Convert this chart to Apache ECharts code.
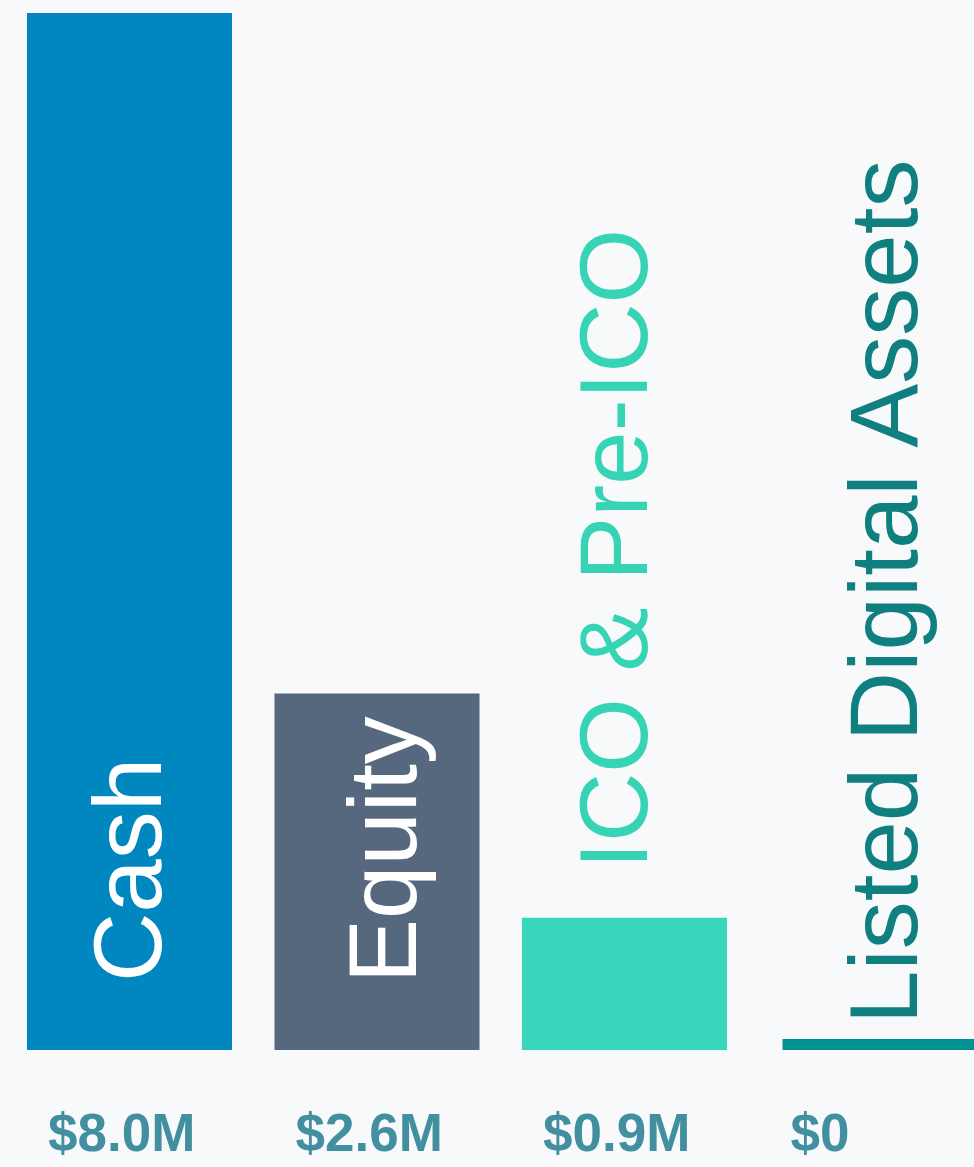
<!DOCTYPE html>
<html>
<head>
<meta charset="utf-8">
<script src="https://cdn.jsdelivr.net/npm/echarts@6/dist/echarts.min.js"></script>
<style>
  html, body { margin: 0; padding: 0; background: #f7f9fb; }
  #chart { width: 974px; height: 1167px; }
</style>
</head>
<body>
<div id="chart"></div>
<script>
var categories = ['Cash', 'Equity', 'ICO & Pre-ICO', 'Listed Digital Assets'];
var amountLabels = ['$8.0M', '$2.6M', '$0.9M', '$0'];
// bar heights as drawn (in $M)
var barValues = [8.0, 2.75, 1.02, 0.085];

var barColors = ['#0087bf', '#55687e', '#38d7bc', '#009191'];
var textColors = ['#ffffff', '#ffffff', '#36d4b5', '#107f7f'];
var labelInside = [true, true, false, false];
var labelDistance = [68, 67, 49, 15];
var labelShift = [5.5, 13, -4, 12.5];

var font = '"Liberation Sans", Arial, Helvetica, sans-serif';

function makeItem(i) {
    return {
        value: barValues[i],
        itemStyle: { color: barColors[i] },
        label: {
            show: true,
            formatter: categories[i],
            position: labelInside[i] ? 'insideBottom' : 'top',
            distance: labelDistance[i],
            offset: [0, labelShift[i]],
            rotate: 90,
            align: 'left',
            verticalAlign: 'middle',
            color: textColors[i],
            fontSize: 96,
            fontFamily: font
        }
    };
}

var mainData = [], lastData = [];
for (var i = 0; i < categories.length; i++) {
    if (i < 3) { mainData.push(makeItem(i)); lastData.push('-'); }
    else { mainData.push('-'); lastData.push(makeItem(i)); }
}

var chart = echarts.init(document.getElementById('chart'));
chart.setOption({
    backgroundColor: '#f7f9fb',
    animation: false,
    grid: { left: 5.75, width: 990, top: 13, bottom: 117, containLabel: false, outerBoundsMode: 'none' },
    xAxis: {
        type: 'category',
        data: amountLabels,
        axisLine: { show: false },
        axisTick: { show: false },
        axisLabel: {
            margin: 60,
            formatter: function (v) { return '{a|' + v + '}'; },
            rich: {
                a: {
                    width: 163,
                    align: 'left',
                    fontSize: 53,
                    fontWeight: 'bold',
                    fontFamily: font,
                    color: '#428fa0'
                }
            }
        }
    },
    yAxis: { type: 'value', min: 0, max: 8, show: false },
    series: [
        { type: 'bar', data: mainData, barWidth: 205 },
        { type: 'bar', data: lastData, barWidth: 192, barGap: '-93.66%' }
    ]
});
</script>
</body>
</html>
